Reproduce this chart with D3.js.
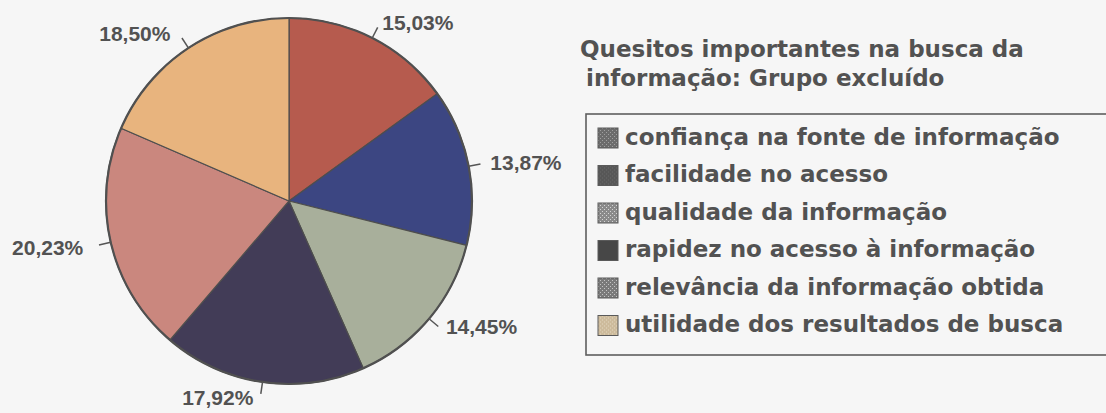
<!DOCTYPE html>
<html>
<head>
<meta charset="utf-8">
<script src="https://cdn.jsdelivr.net/npm/d3@7"></script>
<style>
  html, body { margin: 0; padding: 0; background: #f6f6f6; }
  svg { display: block; }
</style>
</head>
<body>
<svg id="chart" width="1106" height="413"></svg>
<script>
// Quesitos importantes na busca da informação — grupo excluído
const categories = [
  "confiança na fonte de informação",
  "facilidade no acesso",
  "qualidade da informação",
  "rapidez no acesso à informação",
  "relevância da informação obtida",
  "utilidade dos resultados de busca"
];
const values = [15.03, 13.87, 14.45, 17.92, 20.23, 18.50];
const sliceColors = ["#b65b4e", "#3c4682", "#a8af9b", "#423c57", "#ca877e", "#e8b47e"];
// legend swatches are printed as grey halftone patterns
const swatchBase = ["#6c6c6c", "#575757", "#8a8a8a", "#474747", "#7a7a7a", "#cdbb9c"];
const swatchDots = ["#a0a0a0", "#6a6a6a", "#d4d4d4", "#474747", "#c4c4c4", "#e2d6bf"];
const titleLines = ["Quesitos importantes na busca da", "informação: Grupo excluído"];

const svg = d3.select("#chart");
const W = 1106, H = 413;
svg.append("rect").attr("width", W).attr("height", H).attr("fill", "#f6f6f6");

const textColor = "#525252";
const fmt = v => d3.format(".2f")(v).replace(".", ",") + "%";

// halftone patterns for the legend keys
const defs = svg.append("defs");
swatchBase.forEach((c, i) => {
  const p = defs.append("pattern")
    .attr("id", "sw" + i)
    .attr("patternUnits", "userSpaceOnUse")
    .attr("width", 4).attr("height", 4);
  p.append("rect").attr("width", 4).attr("height", 4).attr("fill", c);
  p.append("rect").attr("x", 0).attr("y", 0).attr("width", 1).attr("height", 1).attr("fill", swatchDots[i]);
  p.append("rect").attr("x", 2).attr("y", 2).attr("width", 1).attr("height", 1).attr("fill", swatchDots[i]);
});

// ---- pie ----
const cx = 289, cy = 201, R = 183;
const data = categories.map((c, i) => ({ name: c, value: values[i], color: sliceColors[i] }));
const pie = d3.pie().value(d => d.value).sort(null).startAngle(0).endAngle(2 * Math.PI);
const arcs = pie(data);
const arc = d3.arc().innerRadius(0).outerRadius(R);

const g = svg.append("g").attr("transform", `translate(${cx},${cy})`);
g.selectAll("path.slice")
  .data(arcs)
  .enter().append("path")
  .attr("class", "slice")
  .attr("d", arc)
  .attr("fill", d => d.data.color)
  .attr("stroke", "#4e4e4e")
  .attr("stroke-width", 1.2)
  .attr("stroke-linejoin", "round");

// darker outer rim
g.append("circle").attr("r", R).attr("fill", "none")
  .attr("stroke", "#505050").attr("stroke-width", 2.2);

// leader ticks and value labels
const mid = d => (d.startAngle + d.endAngle) / 2;
const polar = (r, a) => [r * Math.sin(a), -r * Math.cos(a)];
const isRight = d => mid(d) < Math.PI;
const vShift = d => {
  const c = Math.cos(mid(d));
  return c > 0.5 ? 6 : (c < -0.5 ? -4 : 2);
};

g.selectAll("line.leader")
  .data(arcs)
  .enter().append("line")
  .attr("class", "leader")
  .attr("x1", d => polar(R, mid(d))[0])
  .attr("y1", d => polar(R, mid(d))[1])
  .attr("x2", d => polar(R + 12, mid(d))[0])
  .attr("y2", d => polar(R + 12, mid(d))[1])
  .attr("stroke", "#555")
  .attr("stroke-width", 1.5);

g.selectAll("text.value")
  .data(arcs)
  .enter().append("text")
  .attr("class", "value")
  .attr("x", d => polar(R + 22, mid(d))[0] + (isRight(d) ? 0 : -6))
  .attr("y", d => polar(R + 22, mid(d))[1] + vShift(d))
  .attr("text-anchor", d => (isRight(d) ? "start" : "end"))
  .attr("dominant-baseline", "middle")
  .attr("font-family", "'Liberation Sans', Arial, sans-serif")
  .attr("font-weight", "bold")
  .attr("font-size", 21)
  .attr("fill", textColor)
  .text(d => fmt(d.data.value));

// ---- title ----
const title = svg.append("text")
  .attr("font-family", "'DejaVu Sans', Verdana, sans-serif")
  .attr("font-weight", "bold")
  .attr("font-size", 23)
  .attr("fill", textColor);
title.append("tspan").attr("x", 580).attr("y", 57).text(titleLines[0]);
title.append("tspan").attr("x", 586).attr("y", 86).text(titleLines[1]);

// ---- legend ----
const boxX = 586, boxY = 114, boxW = 560, boxH = 241;
svg.append("rect")
  .attr("x", boxX).attr("y", boxY).attr("width", boxW).attr("height", boxH)
  .attr("fill", "none").attr("stroke", "#5e5e5e").attr("stroke-width", 1.6);

const rowY = d3.scalePoint().domain(categories).range([138, 325.5]);
const legend = svg.selectAll("g.item")
  .data(categories)
  .enter().append("g")
  .attr("class", "item")
  .attr("transform", d => `translate(0,${rowY(d)})`);

legend.append("rect")
  .attr("x", 598).attr("y", -10).attr("width", 20).attr("height", 20)
  .attr("fill", (d, i) => `url(#sw${i})`)
  .attr("stroke", "#5a5a5a").attr("stroke-width", 1);

legend.append("text")
  .attr("x", 625).attr("y", 0)
  .attr("dominant-baseline", "middle")
  .attr("font-family", "'DejaVu Sans', Verdana, sans-serif")
  .attr("font-weight", "bold")
  .attr("font-size", 23)
  .attr("fill", textColor)
  .text(d => d);
</script>
</body>
</html>
